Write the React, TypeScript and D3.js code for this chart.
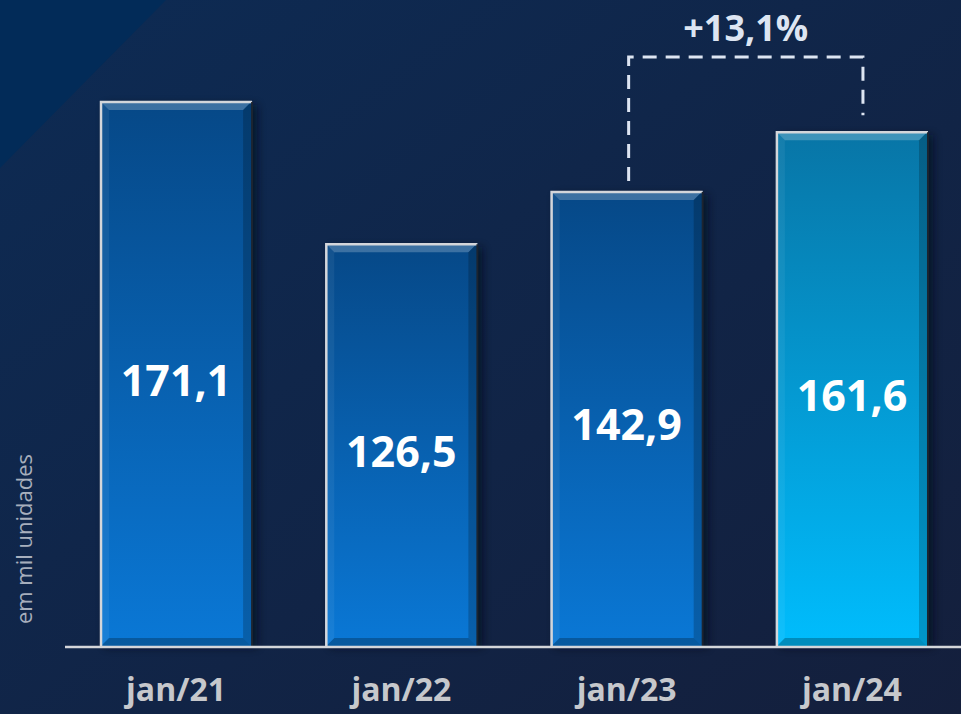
import React from "react";
import * as d3 from "d3";

const categories = ["jan/21", "jan/22", "jan/23", "jan/24"];
const values = [171.1, 126.5, 142.9, 161.6];
const valueLabels = ["171,1", "126,5", "142,9", "161,6"];
const highlight = [false, false, false, true];
const growthLabel = "+13,1%";
const unitLabel = "em mil unidades";

const W = 961;
const H = 714;
const baseY = 647;
const topY = 101;

export default function App() {
  const x = d3
    .scaleBand<string>()
    .domain(categories)
    .range([63.4, 964.6])
    .paddingInner(0.325)
    .paddingOuter(0.1625);
  const y = d3.scaleLinear().domain([0, 171.1]).range([baseY, topY]);
  const bw = x.bandwidth();
  const bev = 9;

  const i3 = 2, i4 = 3;
  const xa = x(categories[i3])! + bw / 2 + 2;
  const xb = x(categories[i4])! + bw / 2 + 11;
  const yTopBracket = 57;

  return (
    <svg width={W} height={H} style={{ position: "absolute", left: 0, top: 0, display: "block" }}>
      <defs>
        <linearGradient id="bg" x1="0" y1="0" x2="1" y2="1">
          <stop offset="0" stopColor="#0d2b54" />
          <stop offset="1" stopColor="#141f3c" />
        </linearGradient>
        <linearGradient id="barA" x1="0" y1="0" x2="0" y2="1">
          <stop offset="0" stopColor="#064887" />
          <stop offset="1" stopColor="#0a78d6" />
        </linearGradient>
        <linearGradient id="barB" x1="0" y1="0" x2="0" y2="1">
          <stop offset="0" stopColor="#0875a6" />
          <stop offset="1" stopColor="#00bdfd" />
        </linearGradient>
        <filter id="shadow" x="-20%" y="-20%" width="140%" height="140%">
          <feGaussianBlur stdDeviation="4" />
        </filter>
      </defs>
      <rect x={0} y={0} width={W} height={H} fill="url(#bg)" />
      <polygon points="0,0 166,0 0,168" fill="#022b58" />

      {categories.map((c, i) => {
        const x0 = x(c)!;
        const y0 = y(values[i]);
        const h = baseY - y0;
        const x1 = x0 + bw;
        const y1 = baseY;
        return (
          <g key={c}>
            <rect x={x0 + 5} y={y0 + 4} width={bw} height={h - 4} fill="#050d1c" opacity={0.7} filter="url(#shadow)" />
            <rect x={x0} y={y0} width={bw} height={h} fill={highlight[i] ? "url(#barB)" : "url(#barA)"} />
            <polygon
              points={`${x0},${y0} ${x1},${y0} ${x1 - bev},${y0 + bev} ${x0 + bev},${y0 + bev}`}
              fill="#ffffff"
              opacity={0.22}
            />
            <polygon
              points={`${x0},${y1} ${x1},${y1} ${x1 - bev},${y1 - bev} ${x0 + bev},${y1 - bev}`}
              fill="#000000"
              opacity={0.25}
            />
            <polygon
              points={`${x1},${y0} ${x1},${y1} ${x1 - bev},${y1 - bev} ${x1 - bev},${y0 + bev}`}
              fill="#000000"
              opacity={0.2}
            />
            <polygon
              points={`${x0},${y0} ${x0},${y1} ${x0 + bev},${y1 - bev} ${x0 + bev},${y0 + bev}`}
              fill="#ffffff"
              opacity={0.06}
            />
            <path d={`M${x0 + 1},${y1} V${y0 + 1} H${x1}`} fill="none" stroke="#d4d6da" strokeWidth={2.5} />
            <path d={`M${x1},${y0 + 1} V${y1}`} fill="none" stroke="#1c2430" strokeWidth={2} />
            <text
              x={x0 + bw / 2}
              y={(y0 + baseY) / 2 + 5}
              textAnchor="middle"
              dominantBaseline="central"
              fill="#ffffff"
              fontFamily="'Open Sans', sans-serif"
              fontWeight={700}
              fontSize={43}
            >
              {valueLabels[i]}
            </text>
            <text
              x={x0 + bw / 2}
              y={701}
              textAnchor="middle"
              fill="#c6c8cc"
              fontFamily="'Open Sans', sans-serif"
              fontWeight={700}
              fontSize={32}
            >
              {c}
            </text>
          </g>
        );
      })}

      <line x1={65} x2={W} y1={baseY} y2={baseY} stroke="#d4d6da" strokeWidth={2.5} />

      <path
        d={`M${xa},${y(values[i3]) - 10} V${yTopBracket} H${xb} V${y(values[i4]) - 16}`}
        fill="none"
        stroke="#dde5f2"
        strokeWidth={3}
        strokeDasharray="14 9"
      />
      <text
        x={(xa + xb) / 2}
        y={27}
        textAnchor="middle"
        dominantBaseline="central"
        fill="#dde5f2"
        fontFamily="'Open Sans', sans-serif"
        fontWeight={700}
        fontSize={36}
      >
        {growthLabel}
      </text>

      <text
        transform={`translate(23,${539}) rotate(-90)`}
        textAnchor="middle"
        dominantBaseline="central"
        fill="#a7afbd"
        fontFamily="'Open Sans', sans-serif"
        fontSize={22}
      >
        {unitLabel}
      </text>
    </svg>
  );
}
